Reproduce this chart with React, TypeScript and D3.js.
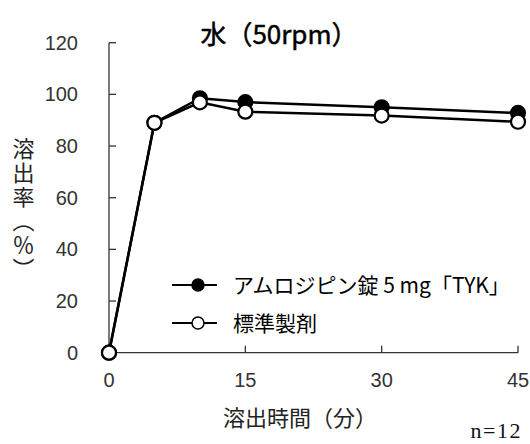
import React from "react";
import * as d3 from "d3";

const times = [0, 5, 10, 15, 30, 45];
const testValues = [0, 89.0, 98.5, 97.0, 95.0, 92.8];
const refValues = [0, 89.0, 96.9, 93.3, 91.8, 89.4];
const xTicks = [0, 15, 30, 45];
const yTicks = [0, 20, 40, 60, 80, 100, 120];
const seriesNames = ["アムロジピン錠 5 mg「TYK」", "標準製剤"];
const yLabel = "溶出率︵％︶";

const W = 530, H = 444;
const x = d3.scaleLinear().domain([0, 45]).range([109, 518]);
const y = d3.scaleLinear().domain([0, 120]).range([352.7, 42.7]);
const jp = "'Noto Sans CJK JP', sans-serif";
const num = "'Liberation Sans', sans-serif";

export default function App() {
  const line = d3.line<number>().x((_, i) => x(times[i])).y((d) => y(d));
  const series = [
    { name: seriesNames[0], values: testValues, fill: "#000" },
    { name: seriesNames[1], values: refValues, fill: "#fff" },
  ];
  return (
    <svg width={W} height={H} style={{ position: "absolute", left: 0, top: 0, background: "#fff" }}>
      <rect width={W} height={H} fill="#fff" />
      <text x={279} y={44} textAnchor="middle" fontFamily={jp} fontSize={26} fill="#000" stroke="#000" strokeWidth={0.5}>水（50rpm）</text>
      {/* axes */}
      <line x1={x(0)} x2={x(0)} y1={y(0)} y2={y(120)} stroke="#333" strokeWidth={1.3} />
      <line x1={x(0)} x2={x(45)} y1={y(0)} y2={y(0)} stroke="#333" strokeWidth={1.3} />
      {yTicks.map((t) => (
        <g key={"y" + t}>
          <line x1={x(0)} x2={x(0) + 7} y1={y(t)} y2={y(t)} stroke="#333" strokeWidth={1.3} />
          <text x={78} y={y(t) + 7} textAnchor="end" fontFamily={num} fontSize={20} fill="#333">{t}</text>
        </g>
      ))}
      {xTicks.map((t) => (
        <g key={"x" + t}>
          <line x1={x(t)} x2={x(t)} y1={y(0)} y2={y(0) - 7} stroke="#333" strokeWidth={1.3} />
          <text x={x(t)} y={387} textAnchor="middle" fontFamily={num} fontSize={20} fill="#333">{t}</text>
        </g>
      ))}
      <text x={23.5} y={138} fontFamily={jp} fontSize={22} letterSpacing={2} fill="#222"
        style={{ writingMode: "vertical-rl", textOrientation: "upright" } as any}>{yLabel}</text>
      <text x={300} y={426} textAnchor="middle" fontFamily={jp} fontSize={22} fill="#222">溶出時間（分）</text>
      <text x={522} y={438} textAnchor="end" fontFamily="'Liberation Serif', serif" fontSize={22} letterSpacing={1.5} fill="#111">n=12</text>
      {/* series */}
      {series.map((s) => (
        <g key={s.name}>
          <path d={line(s.values) || ""} fill="none" stroke="#000" strokeWidth={2.5} />
        </g>
      ))}
      {series.map((s) => (
        <g key={s.name + "m"}>
          {s.values.map((v, i) => (
            <circle key={i} cx={x(times[i])} cy={y(v)} r={7} fill={s.fill} stroke="#000" strokeWidth={2.2} />
          ))}
        </g>
      ))}
      {/* legend */}
      {series.map((s, i) => {
        const ly = 285 + i * 38;
        return (
          <g key={s.name + "l"}>
            <line x1={172} x2={217} y1={ly} y2={ly} stroke="#000" strokeWidth={2.2} />
            <circle cx={198} cy={ly} r={6} fill={s.fill} stroke="#000" strokeWidth={1.5} />
            <text x={233} y={ly + 7.5} fontFamily={jp} fontSize={21} fill="#000">{s.name}</text>
          </g>
        );
      })}
    </svg>
  );
}
